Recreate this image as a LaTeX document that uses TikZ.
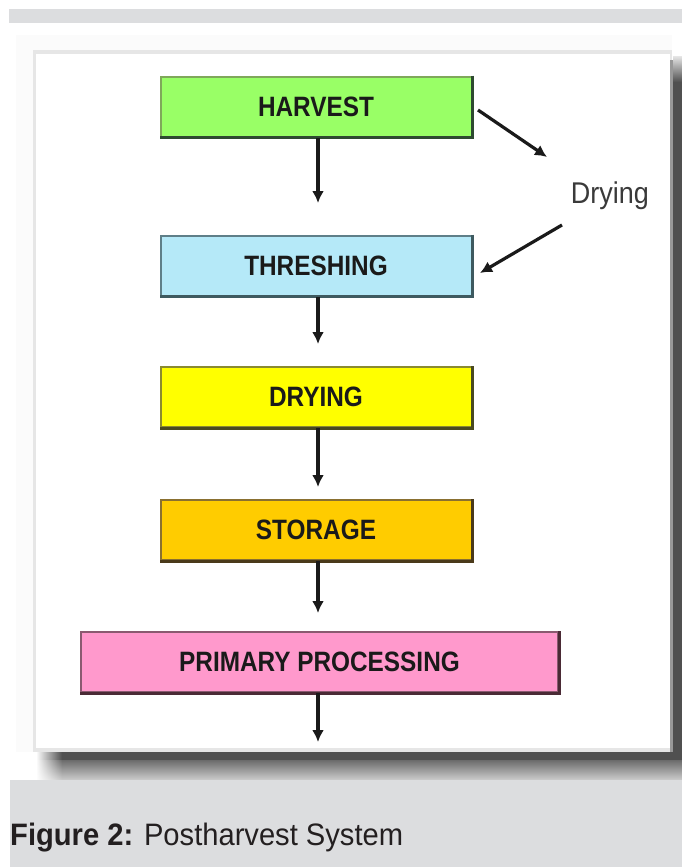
\documentclass[tikz,border=0pt]{standalone}
\usepackage{fontspec}
\setmainfont{Liberation Sans}
\usepackage{graphicx}
\usetikzlibrary{arrows.meta,fadings}
\definecolor{bandgrey}{HTML}{DCDDDF}
\definecolor{panelline}{HTML}{E6E6E6}
\definecolor{shadowdark}{HTML}{505050}
\definecolor{hvfill}{HTML}{99FF66}
\definecolor{hvlight}{HTML}{7FA85A}
\definecolor{hvdark}{HTML}{2E4A30}
\definecolor{thfill}{HTML}{B5E9F8}
\definecolor{thlight}{HTML}{5F7F88}
\definecolor{thdark}{HTML}{3E5A60}
\definecolor{dyfill}{HTML}{FFFF00}
\definecolor{dylight}{HTML}{8A8A30}
\definecolor{dydark}{HTML}{4A4A20}
\definecolor{stfill}{HTML}{FFCC00}
\definecolor{stlight}{HTML}{8A7030}
\definecolor{stdark}{HTML}{4A3A1A}
\definecolor{prfill}{HTML}{FF99CC}
\definecolor{prlight}{HTML}{8A5A70}
\definecolor{prdark}{HTML}{4A2A35}
\definecolor{inktext}{HTML}{1A1A1A}
\definecolor{captext}{HTML}{231F20}
\definecolor{drytext}{HTML}{3A3A3A}
\newcommand{\stagetext}[1]{\scalebox{0.87}[1]{\fontsize{28}{30}\selectfont\bfseries #1}}
\tikzset{
  stage/.style={rectangle, line width=2pt, minimum height=60pt, inner sep=0pt, text=inktext},
  flow/.style={line width=3.2pt, draw=inktext, -{Latex[length=12pt,width=12pt]}},
  edgedark/.style={line width=3pt}
}
\begin{document}
\begin{tikzpicture}[x=1pt,y=-1pt]
\useasboundingbox (0,0) rectangle (682,867);
\fill[white] (0,0) rectangle (682,867);
% top band
\fill[bandgrey] (9,9) rectangle (682,23);
% faint outer frame
\fill[black!1.5] (16,35) rectangle (672,752);
% panel
\fill[panelline] (33,50) rectangle (672,752);
\fill[white] (36,54) rectangle (670,748);
% right shadow
\shade[top color=black!12, bottom color=shadowdark] (673,57) rectangle (682,82);
\fill[shadowdark] (673,82) rectangle (682,752);
\fill[black!40] (670,60) rectangle (673,752);
% bottom shadow
\fill[shadowdark] (62,752) rectangle (682,760);
\shade[top color=black!58, bottom color=black!20] (62,760) rectangle (682,780);
\fill[shadowdark, path fading=west] (36,752) rectangle (62,760);
\shade[top color=black!58, bottom color=black!20, path fading=west] (36,760) rectangle (62,780);
% caption band
\fill[bandgrey] (10,780) rectangle (682,867);
\node[anchor=base west, inner sep=0pt, text=captext] (cap) at (10,845)
  {\scalebox{0.94}[1]{\fontsize{31}{36}\selectfont\textbf{Figure 2:} Postharvest System}};

% stages
\node[stage, fill=hvfill, draw=hvlight, minimum width=311pt] (harvest) at (316,106.5) {\stagetext{HARVEST}};
\draw[hvdark, edgedark] (harvest.north east) -- (harvest.south east) -- (harvest.south west);
\node[stage, fill=thfill, draw=thlight, minimum width=311pt] (thresh) at (316,265.5) {\stagetext{THRESHING}};
\draw[thdark, edgedark] (thresh.north east) -- (thresh.south east) -- (thresh.south west);
\node[stage, fill=dyfill, draw=dylight, minimum width=311pt] (drying) at (316,397) {\stagetext{DRYING}};
\draw[dydark, edgedark] (drying.north east) -- (drying.south east) -- (drying.south west);
\node[stage, fill=stfill, draw=stlight, minimum width=311pt] (storage) at (316,530) {\stagetext{STORAGE}};
\draw[stdark, edgedark] (storage.north east) -- (storage.south east) -- (storage.south west);
\node[stage, fill=prfill, draw=prlight, minimum width=477pt] (primary) at (319.5,662) {\stagetext{PRIMARY PROCESSING}};
\draw[prdark, edgedark] (primary.north east) -- (primary.south east) -- (primary.south west);

% side label
\node[anchor=base, inner sep=0pt, text=drytext] (drylbl) at (610,203)
  {\scalebox{0.9}[1]{\fontsize{30}{34}\selectfont Drying}};

% arrow ends
\coordinate (t1) at (318,203);
\coordinate (t2) at (318,344);
\coordinate (t3) at (318,487);
\coordinate (t4) at (318,613);
\coordinate (t5) at (318,742);
\coordinate (d1s) at (478,110);
\coordinate (d1e) at (547,157);
\coordinate (d2s) at (562,225);
\coordinate (d2e) at (480,273);

\draw[flow] (harvest.south -| t1) -- (t1);
\draw[flow] (thresh.south -| t2) -- (t2);
\draw[flow] (drying.south -| t3) -- (t3);
\draw[flow] (storage.south -| t4) -- (t4);
\draw[flow] (primary.south -| t5) -- (t5);
\draw[flow] (d1s) -- (d1e);
\draw[flow] (d2s) -- (d2e);
\end{tikzpicture}
\end{document}
